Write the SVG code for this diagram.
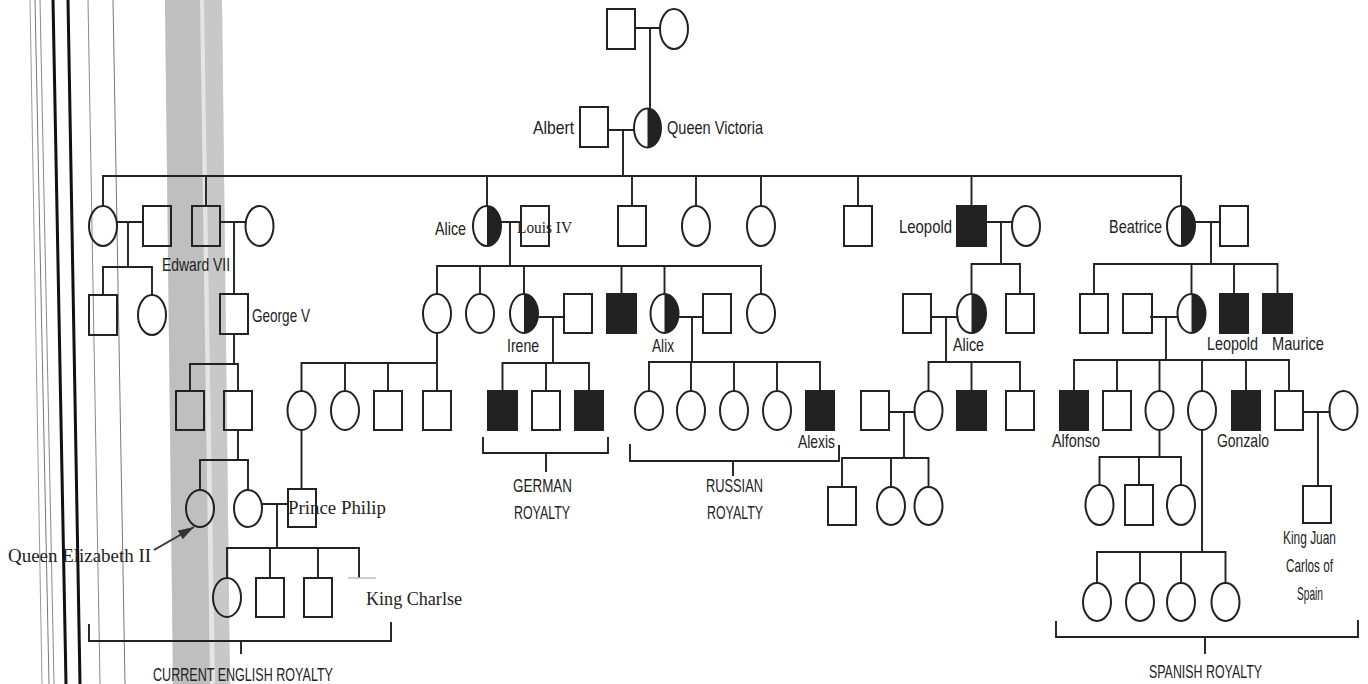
<svg xmlns="http://www.w3.org/2000/svg" width="1368" height="684" viewBox="0 0 1368 684">
<style>
.ln{stroke:#222;stroke-width:1.9;fill:none;stroke-linecap:square}
.sh{stroke:#222;stroke-width:2;fill:none}
.af{fill:#222;stroke:#222;stroke-width:2}
.hf{fill:#222;stroke:none}
.lbl{font-family:"Liberation Sans Narrow","Liberation Sans",Arial,sans-serif;font-size:18.5px;fill:#222}
.ser{font-family:"Liberation Serif","Times New Roman",serif;font-size:18px;fill:#222}
</style>
<defs>
<marker id="ah" viewBox="0 0 16 10" refX="16" refY="5" markerWidth="16" markerHeight="10" markerUnits="userSpaceOnUse" orient="auto">
<path d="M0,0 L16,5 L0,10 z" fill="#333"/>
</marker>
</defs>
<rect x="0" y="0" width="1368" height="684" fill="#ffffff"/>

<g id="scan-artifacts">
<polygon points="165,0 222,0 230,684 173,684" fill="#e4e4e4"/>
<polygon points="165,0 200,0 210,684 173,684" fill="#bfbfbf"/>
<polygon points="204,0 222,0 230,684 215,684" fill="#c8c8c8"/>
<line x1="30" y1="0" x2="42" y2="684" stroke="#999" stroke-width="1"/>
<line x1="35" y1="0" x2="49" y2="684" stroke="#777" stroke-width="1"/>
<line x1="40" y1="0" x2="54" y2="684" stroke="#888" stroke-width="1"/>
<line x1="53" y1="0" x2="66" y2="684" stroke="#111" stroke-width="3"/>
<line x1="68" y1="0" x2="80" y2="684" stroke="#111" stroke-width="3"/>
<line x1="88" y1="0" x2="100" y2="684" stroke="#888" stroke-width="1"/>
<line x1="113" y1="0" x2="125" y2="684" stroke="#777" stroke-width="1"/>
</g>

<g id="connectors">
<path class="ln" d="M635,28 H660 M650,28 V109"/>
<path class="ln" d="M608,130 H634 M623,130 V176 M103,176 H1181"/>
<path class="ln" d="M103,176 V206 M206,176 V206 M487,176 V206 M632,176 V206 M696,176 V206 M761,176 V206 M858,176 V206 M971.5,176 V206 M1181,176 V206"/>
<path class="ln" d="M117,222 H143 M128,222 V267 M103,267 H152 M103,267 V295 M152,267 V295"/>
<path class="ln" d="M220,222 H245.5 M234,222 V294"/>
<path class="ln" d="M501,222 H521 M510,222 V266 M437,266 H761 M437,266 V294 M480,266 V294 M524,266 V294 M621.5,266 V294 M664.5,266 V294 M761,266 V294"/>
<path class="ln" d="M986,222 H1012 M1001,222 V264 M971.5,264 H1020 M971.5,264 V294 M1020,264 V294"/>
<path class="ln" d="M1195,222 H1220 M1211,222 V264 M1094,264 H1277.5 M1094,264 V294 M1191.5,264 V294 M1234,264 V294 M1277.5,264 V294"/>
<path class="ln" d="M234,334 V364 M190,364 H238 M190,364 V391 M238,364 V391"/>
<path class="ln" d="M437,333 V363 M301.5,363 H437 M301.5,363 V391 M345,363 V391 M388,363 V391 M437,363 V391"/>
<path class="ln" d="M538,317 H564 M553,317 V363 M502.5,363 H589 M502.5,363 V391 M546,363 V391 M589,363 V391"/>
<path class="ln" d="M678.5,317 H703 M692,317 V362 M649,362 H820 M649,362 V391 M691,362 V391 M734,362 V391 M777,362 V391 M820,362 V391"/>
<path class="ln" d="M931,317 H957.5 M946,317 V362 M928.5,362 H1020 M928.5,362 V391 M971.5,362 V391 M1020,362 V391"/>
<path class="ln" d="M1151,317 H1177.5 M1166,317 V360 M1074,360 H1289 M1074,360 V391 M1117,360 V391 M1159.5,360 V391 M1202,360 V391 M1246,360 V391 M1289,360 V391"/>
<path class="ln" d="M238,430 V460 M200,460 H248 M200,460 V490 M248,460 V490"/>
<path class="ln" d="M301.5,430 V489"/>
<path class="ln" d="M262,504 H288 M277,504 V548 M227,548 H359 M227,548 V578 M270,548 V578 M318,548 V578 M359,548 V577"/>
<path d="M348,578 H376" stroke="#bbb" stroke-width="1.5" fill="none"/>
<path class="ln" d="M889,412 H914.5 M904,412 V458 M842,458 H928.5 M842,458 V487 M891,458 V487 M928.5,458 V487"/>
<path class="ln" d="M1159.5,430 V457 M1099.5,457 H1181 M1099.5,457 V485 M1139,457 V485 M1181,457 V485"/>
<path class="ln" d="M1202,430 V552 M1097,552 H1225.5 M1097,552 V583 M1140,552 V583 M1181,552 V583 M1225.5,552 V583"/>
<path class="ln" d="M1303,412 H1329.5 M1318,412 V486"/>
<path class="ln" d="M89,625 V641 H391 V623 M241,641 V653"/>
<path class="ln" d="M483,438 V453 H608 V438 M546,453 V471"/>
<path class="ln" d="M630,445 V461 H839 V446 M733,461 V475"/>
<path class="ln" d="M1056,622 V637 H1358 V621 M1205,637 V653"/>
<line x1="154" y1="550" x2="194" y2="527" stroke="#333" stroke-width="2" marker-end="url(#ah)"/>
</g>

<g id="gen0-father"><rect class="sh" x="607" y="9" width="28" height="40"/></g>
<g id="gen0-mother"><ellipse class="sh" cx="674" cy="29" rx="14" ry="20"/></g>

<g id="albert"><rect class="sh" x="580" y="107" width="28" height="40"/>
<text class="lbl" x="533" y="134" textLength="41" lengthAdjust="spacingAndGlyphs">Albert</text></g>
<g id="queen-victoria"><path class="hf" d="M647.5,108.5 A13.5,19.5 0 0 1 647.5,147.5 Z"/><ellipse class="sh" cx="647.5" cy="128" rx="13.5" ry="19.5"/>
<text class="lbl" x="667" y="134" textLength="96" lengthAdjust="spacingAndGlyphs">Queen Victoria</text></g>

<g id="g2-daughter1"><ellipse class="sh" cx="103" cy="226" rx="14" ry="20"/></g>
<g id="g2-daughter1-husband"><rect class="sh" x="143" y="206" width="28" height="40"/></g>
<g id="edward-vii"><rect class="sh" x="192" y="206" width="28" height="40"/>
<text class="lbl" x="162" y="271" textLength="68" lengthAdjust="spacingAndGlyphs">Edward VII</text></g>
<g id="edward-wife"><ellipse class="sh" cx="259.5" cy="226" rx="14" ry="20"/></g>
<g id="alice"><path class="hf" d="M487,206 A14,20 0 0 1 487,246 Z"/><ellipse class="sh" cx="487" cy="226" rx="14" ry="20"/>
<text class="lbl" x="435" y="235" textLength="31" lengthAdjust="spacingAndGlyphs">Alice</text></g>
<g id="louis-iv"><rect class="sh" x="521" y="206" width="28" height="40"/>
<text class="ser" x="517" y="233" textLength="55" lengthAdjust="spacingAndGlyphs" style="font-size:16px">Louis IV</text></g>
<g id="g2-son-a"><rect class="sh" x="618" y="206" width="28" height="40"/></g>
<g id="g2-daughter-b"><ellipse class="sh" cx="696" cy="226" rx="14" ry="20"/></g>
<g id="g2-daughter-c"><ellipse class="sh" cx="761" cy="226" rx="14" ry="20"/></g>
<g id="g2-son-d"><rect class="sh" x="844" y="206" width="28" height="40"/></g>
<g id="leopold"><rect class="af" x="957" y="206" width="29" height="40"/>
<text class="lbl" x="899" y="233" textLength="53" lengthAdjust="spacingAndGlyphs">Leopold</text></g>
<g id="leopold-wife"><ellipse class="sh" cx="1026" cy="226" rx="14" ry="20"/></g>
<g id="beatrice"><path class="hf" d="M1181,206 A14,20 0 0 1 1181,246 Z"/><ellipse class="sh" cx="1181" cy="226" rx="14" ry="20"/>
<text class="lbl" x="1109" y="233" textLength="53" lengthAdjust="spacingAndGlyphs">Beatrice</text></g>
<g id="beatrice-husband"><rect class="sh" x="1220" y="206" width="28" height="40"/></g>

<g id="g3-e1"><rect class="sh" x="89" y="295" width="28" height="40"/></g>
<g id="g3-e2"><ellipse class="sh" cx="152" cy="315" rx="14" ry="20"/></g>
<g id="george-v"><rect class="sh" x="220" y="294" width="28" height="40"/>
<text class="lbl" x="252" y="322" textLength="58" lengthAdjust="spacingAndGlyphs">George V</text></g>
<g id="g3-a1"><ellipse class="sh" cx="437" cy="313.5" rx="14" ry="19.5"/></g>
<g id="g3-a2"><ellipse class="sh" cx="480" cy="313.5" rx="14" ry="19.5"/></g>
<g id="irene"><path class="hf" d="M524,294 A14,19.5 0 0 1 524,333 Z"/><ellipse class="sh" cx="524" cy="313.5" rx="14" ry="19.5"/>
<text class="lbl" x="507" y="352" textLength="32" lengthAdjust="spacingAndGlyphs">Irene</text></g>
<g id="irene-husband"><rect class="sh" x="564" y="294" width="28" height="39"/></g>
<g id="g3-a-son"><rect class="af" x="607" y="294" width="29" height="39"/></g>
<g id="alix"><path class="hf" d="M664.5,294 A14,19.5 0 0 1 664.5,333 Z"/><ellipse class="sh" cx="664.5" cy="313.5" rx="14" ry="19.5"/>
<text class="lbl" x="652" y="352" textLength="22" lengthAdjust="spacingAndGlyphs">Alix</text></g>
<g id="alix-husband"><rect class="sh" x="703" y="294" width="28" height="39"/></g>
<g id="g3-a3"><ellipse class="sh" cx="761" cy="313.5" rx="14" ry="19.5"/></g>
<g id="alice-2-husband"><rect class="sh" x="903" y="294" width="28" height="39"/></g>
<g id="alice-2"><path class="hf" d="M971.5,294 A14.5,19.5 0 0 1 971.5,333 Z"/><ellipse class="sh" cx="971.5" cy="313.5" rx="14.5" ry="19.5"/>
<text class="lbl" x="953" y="351" textLength="31" lengthAdjust="spacingAndGlyphs">Alice</text></g>
<g id="g3-l2"><rect class="sh" x="1006" y="294" width="28" height="39"/></g>
<g id="g3-b1"><rect class="sh" x="1080" y="294" width="28" height="39"/></g>
<g id="g3-b-spouse"><rect class="sh" x="1123" y="294" width="29" height="39"/></g>
<g id="g3-b-daughter"><path class="hf" d="M1191.5,294 A14,19.5 0 0 1 1191.5,333 Z"/><ellipse class="sh" cx="1191.5" cy="313.5" rx="14" ry="19.5"/></g>
<g id="leopold-2"><rect class="af" x="1220" y="294" width="28" height="39"/>
<text class="lbl" x="1207" y="350" textLength="51" lengthAdjust="spacingAndGlyphs">Leopold</text></g>
<g id="maurice"><rect class="af" x="1263" y="294" width="29" height="39"/>
<text class="lbl" x="1272" y="350" textLength="52" lengthAdjust="spacingAndGlyphs">Maurice</text></g>

<g id="g4-g1"><rect class="sh" x="176" y="391" width="28" height="39"/></g>
<g id="g4-g2"><rect class="sh" x="224" y="391" width="28" height="39"/></g>
<g id="g4-c1"><ellipse class="sh" cx="301.5" cy="410.5" rx="14" ry="19.5"/></g>
<g id="g4-c2"><ellipse class="sh" cx="345" cy="410.5" rx="14" ry="19.5"/></g>
<g id="g4-c3"><rect class="sh" x="374" y="391" width="28" height="39"/></g>
<g id="g4-c4"><rect class="sh" x="423" y="391" width="28" height="39"/></g>
<g id="g4-i1"><rect class="af" x="488" y="391" width="29" height="39"/></g>
<g id="g4-i2"><rect class="sh" x="532" y="391" width="28" height="39"/></g>
<g id="g4-i3"><rect class="af" x="575" y="391" width="28" height="39"/></g>
<g id="g4-x1"><ellipse class="sh" cx="649" cy="410.5" rx="14" ry="19.5"/></g>
<g id="g4-x2"><ellipse class="sh" cx="691" cy="410.5" rx="14" ry="19.5"/></g>
<g id="g4-x3"><ellipse class="sh" cx="734" cy="410.5" rx="14" ry="19.5"/></g>
<g id="g4-x4"><ellipse class="sh" cx="777" cy="410.5" rx="14" ry="19.5"/></g>
<g id="alexis"><rect class="af" x="806" y="391" width="28" height="39"/>
<text class="lbl" x="798" y="448" textLength="37" lengthAdjust="spacingAndGlyphs">Alexis</text></g>
<g id="g4-l-husband"><rect class="sh" x="861" y="391" width="28" height="39"/></g>
<g id="g4-l1"><ellipse class="sh" cx="928.5" cy="410.5" rx="14" ry="19.5"/></g>
<g id="g4-l2"><rect class="af" x="957" y="391" width="29" height="39"/></g>
<g id="g4-l3"><rect class="sh" x="1006" y="391" width="28" height="39"/></g>
<g id="alfonso"><rect class="af" x="1060" y="391" width="28" height="39"/>
<text class="lbl" x="1052" y="447" textLength="48" lengthAdjust="spacingAndGlyphs">Alfonso</text></g>
<g id="g4-s2"><rect class="sh" x="1103" y="391" width="28" height="39"/></g>
<g id="g4-s3"><ellipse class="sh" cx="1159.5" cy="410.5" rx="14" ry="19.5"/></g>
<g id="g4-s4"><ellipse class="sh" cx="1202" cy="410.5" rx="14" ry="19.5"/></g>
<g id="gonzalo"><rect class="af" x="1232" y="391" width="28" height="39"/>
<text class="lbl" x="1217" y="447" textLength="52" lengthAdjust="spacingAndGlyphs">Gonzalo</text></g>
<g id="g4-s6"><rect class="sh" x="1275" y="391" width="28" height="39"/></g>
<g id="g4-s6-wife"><ellipse class="sh" cx="1343.5" cy="410.5" rx="14" ry="19.5"/></g>

<g id="queen-elizabeth-ii"><ellipse class="sh" cx="200" cy="508.5" rx="14" ry="18.5"/>
<text class="ser" x="8" y="562" textLength="143" lengthAdjust="spacingAndGlyphs">Queen Elizabeth II</text></g>
<g id="g5-e2"><ellipse class="sh" cx="248" cy="508.5" rx="14" ry="18.5"/></g>
<g id="prince-philip"><rect class="sh" x="288" y="489" width="28" height="38"/>
<text class="ser" x="288" y="514" textLength="98" lengthAdjust="spacingAndGlyphs">Prince Philip</text></g>
<g id="g5-l1"><rect class="sh" x="828" y="487" width="28" height="38"/></g>
<g id="g5-l2"><ellipse class="sh" cx="891" cy="506" rx="14" ry="19"/></g>
<g id="g5-l3"><ellipse class="sh" cx="928.5" cy="506" rx="14" ry="19"/></g>
<g id="g5-s1"><ellipse class="sh" cx="1099.5" cy="505" rx="14" ry="20"/></g>
<g id="g5-s2"><rect class="sh" x="1125" y="485" width="28" height="40"/></g>
<g id="g5-s3"><ellipse class="sh" cx="1181" cy="505" rx="14" ry="20"/></g>
<g id="king-juan-carlos"><rect class="sh" x="1303" y="486" width="28" height="37"/>
<text class="lbl" x="1283" y="544" textLength="53" lengthAdjust="spacingAndGlyphs">King Juan</text>
<text class="lbl" x="1286" y="572" textLength="47" lengthAdjust="spacingAndGlyphs">Carlos of</text>
<text class="lbl" x="1297" y="600" textLength="26" lengthAdjust="spacingAndGlyphs">Spain</text></g>

<g id="g6-e1"><ellipse class="sh" cx="227" cy="597.5" rx="14" ry="19.5"/></g>
<g id="g6-e2"><rect class="sh" x="256" y="578" width="28" height="39"/></g>
<g id="g6-e3"><rect class="sh" x="304" y="578" width="28" height="39"/></g>
<g id="king-charlse"><text class="ser" x="366" y="605" textLength="96" lengthAdjust="spacingAndGlyphs">King Charlse</text></g>
<g id="g6-s1"><ellipse class="sh" cx="1097" cy="602" rx="14" ry="19"/></g>
<g id="g6-s2"><ellipse class="sh" cx="1140" cy="602" rx="14" ry="19"/></g>
<g id="g6-s3"><ellipse class="sh" cx="1181" cy="602" rx="14" ry="19"/></g>
<g id="g6-s4"><ellipse class="sh" cx="1225.5" cy="602" rx="14" ry="19"/></g>

<g id="group-labels">
<text class="lbl" x="513" y="492" textLength="59" lengthAdjust="spacingAndGlyphs">GERMAN</text>
<text class="lbl" x="514" y="519" textLength="56" lengthAdjust="spacingAndGlyphs">ROYALTY</text>
<text class="lbl" x="706" y="492" textLength="57" lengthAdjust="spacingAndGlyphs">RUSSIAN</text>
<text class="lbl" x="707" y="519" textLength="56" lengthAdjust="spacingAndGlyphs">ROYALTY</text>
<text class="lbl" x="153" y="681" textLength="180" lengthAdjust="spacingAndGlyphs">CURRENT ENGLISH ROYALTY</text>
<text class="lbl" x="1149" y="678" textLength="113" lengthAdjust="spacingAndGlyphs">SPANISH ROYALTY</text>
</g>
</svg>
